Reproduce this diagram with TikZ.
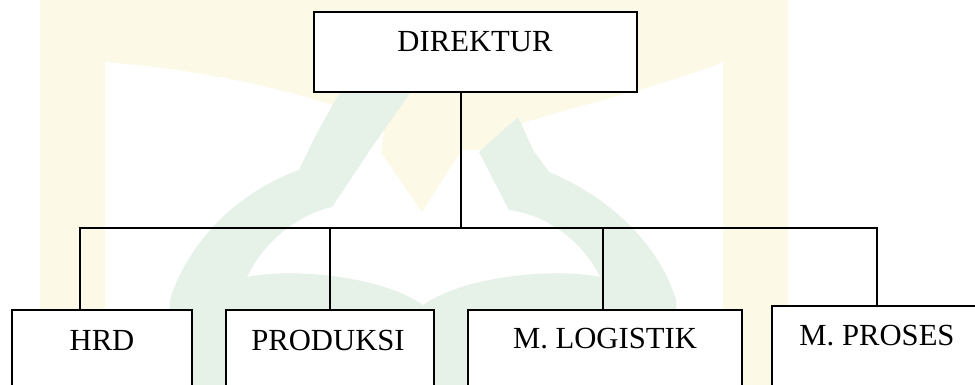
\documentclass[tikz,border=0pt]{standalone}
\usepackage{fontspec}
\setmainfont{Liberation Serif}
\usetikzlibrary{fit}
\definecolor{wmcream}{RGB}{253,249,231}
\definecolor{wmgreen}{RGB}{230,241,232}
\begin{document}
\begin{tikzpicture}[x=0.75pt,y=-0.75pt,
  box/.style={draw=black,line width=1.4pt,fill=white,inner sep=0pt},
  lbl/.style={anchor=base,font=\fontsize{23}{27}\selectfont,inner sep=0pt},
  link/.style={draw=black,line width=1.2pt,line join=miter}]
\clip (0,0) rectangle (975,385);
\fill[white] (0,0) rectangle (975,385);
% faint watermark
\fill[wmcream] (40,0) -- (788,0) -- (788,385) -- (723,385) -- (723,62)
  .. controls (680,80) and (600,100) .. (525,122) -- (485,150) -- (462,150)
  .. controls (445,175) and (430,200) .. (422,212)
  .. controls (410,195) and (395,172) .. (381,153) -- (385,125)
  .. controls (330,100) and (230,72) .. (105,62) -- (105,385) -- (40,385) -- cycle;
\fill[wmgreen] (165,385) -- (170,300) .. controls (185,250) and (230,195) .. (299,170)
  -- (316,135) -- (340,92) -- (385,50) -- (420,55) -- (410,93) -- (370,150) -- (332,207)
  .. controls (295,215) and (262,245) .. (247,277)
  .. controls (290,268) and (380,275) .. (423,305)
  .. controls (466,275) and (556,268) .. (600,277)
  .. controls (585,245) and (550,215) .. (509,210)
  -- (479,152) -- (518,117) -- (533,150) -- (549,172)
  .. controls (616,200) and (661,250) .. (676,300) -- (681,385) -- cycle;
% boxes
\node[box,fit={(314,12) (637,92)}] (dir) {};
\node[box,fit={(12,310) (192,400)}] (hrd) {};
\node[box,fit={(226,310) (434,400)}] (prod) {};
\node[box,fit={(468,310) (742,400)}] (log) {};
\node[box,fit={(772,306) (985,400)}] (pros) {};
% labels
\node[lbl] (tdir) at (475,52) {DIREKTUR};
\node[lbl] (thrd) at (102,350) {HRD};
\node[lbl] (tprod) at (328,350) {PRODUKSI};
\node[lbl] (tlog) at (605,348) {M. LOGISTIK};
\node[lbl] (tpros) at (877,345) {M. PROSES};
% connectors
\coordinate (j0) at (461,228);
\coordinate (j1) at (80,228);
\coordinate (j2) at (330,228);
\coordinate (j3) at (603,228);
\coordinate (j4) at (877,228);
\draw[link] (dir.south -| j0) -- (j0);
\draw[link] (j1 |- hrd.north) -- (j1) -- (j4) -- (j4 |- pros.north);
\draw[link] (j2) -- (j2 |- prod.north);
\draw[link] (j3) -- (j3 |- log.north);
\end{tikzpicture}
\end{document}
